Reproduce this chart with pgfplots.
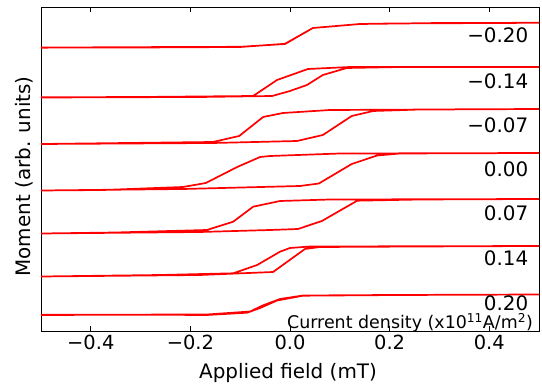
\documentclass[border=0pt]{standalone}
\usepackage{fontspec}
\setmainfont{DejaVu Sans}
\usepackage{pgfplots}
\pgfplotsset{compat=1.18}
\begin{document}
\begin{tikzpicture}[loop/.style={red, mark=none, solid, line width=1.7bp, line join=round}]
\begin{axis}[
  at={(0,0)}, anchor=south west,
  scale only axis, width=498bp, height=324bp,
  xmin=-0.5, xmax=0.5, ymin=0, ymax=324,
  xtick={-0.4,-0.2,0,0.2,0.4},
  xticklabels={−0.4,−0.2,0.0,0.2,0.4},
  ytick=\empty,
  tick align=inside,
  xtick pos=both,
  major tick length=5bp,
  tick style={black, line width=0.8bp},
  axis line style={black, line width=0.9bp},
  xticklabel style={font=\fontsize{19.5}{20}\selectfont, yshift=-1bp},
  xlabel={Applied field (mT)},
  xlabel style={font=\fontsize{20}{24}\selectfont, at={(axis description cs:0.496,-0.148)}, anchor=base},
  ylabel={Moment (arb. units)},
  ylabel style={font=\fontsize{20}{24}\selectfont, at={(axis description cs:-0.034,0.477)}, anchor=center, rotate=0},
  clip=true,
]
% -0.20
\addplot[loop] coordinates {(-0.5,283.3) (-0.35,283.8) (-0.2,284) (-0.10,284.2) (-0.01,287) (0.046,303) (0.141,307) (0.3,308) (0.5,308.2)
 (0.2,307.5) (0.14,307) (0.046,303) (-0.01,287.2) (-0.10,284) (-0.3,283.5) (-0.5,283.5)};
% -0.14
\addplot[loop] coordinates {(-0.5,233.5) (-0.181,234) (-0.036,235) (0,240) (0.034,246) (0.066,256) (0.114,263) (0.221,264) (0.5,264)
 (0.120,264) (0.036,262) (-0.026,251) (-0.074,235) (-0.3,234) (-0.5,233.7)};
% -0.07
\addplot[loop] coordinates {(-0.5,187) (-0.155,188) (0.014,190) (0.066,196) (0.124,215) (0.167,220) (0.261,221.5) (0.5,222)
 (0.080,221) (-0.014,218) (-0.054,214) (-0.102,195) (-0.155,189) (-0.5,187)};
% 0.00
\addplot[loop] coordinates {(-0.5,140.5) (-0.215,142) (0.020,145) (0.058,147.5) (0.124,167) (0.175,175.5) (0.221,177.5) (0.5,178)
 (0.100,177.5) (-0.040,175) (-0.060,174) (-0.106,164) (-0.169,148) (-0.215,144) (-0.375,141) (-0.5,140.5)};
% 0.07
\addplot[loop] coordinates {(-0.5,97.5) (-0.181,99) (-0.040,101) (0.016,102) (0.064,110) (0.135,130.3) (0.261,131.5) (0.5,132)
 (0.080,131.5) (-0.020,130) (-0.074,124.3) (-0.114,109.3) (-0.167,101) (-0.35,98.5) (-0.5,97.5)};
% 0.14
\addplot[loop] coordinates {(-0.5,54.5) (-0.181,56) (-0.034,59) (0.030,82) (0.060,84) (0.261,84.5) (0.5,85)
 (0.040,84.5) (0,83) (-0.020,79.3) (-0.066,66) (-0.114,57.7) (-0.261,56) (-0.5,54.5)};
% 0.20
\addplot[loop] coordinates {(-0.5,16) (-0.3,16.3) (-0.167,16) (-0.086,18.3) (-0.060,23) (-0.026,30.5) (0.026,35.3) (0.221,36) (0.5,36.5)
 (0.2,36) (0.026,35.5) (-0.02,32) (-0.055,25.5) (-0.080,19.5) (-0.167,16.5) (-0.5,16.2)};
\begin{scope}[every node/.style={font=\fontsize{20}{24}\selectfont, anchor=east, inner sep=0pt}]
\node at (axis cs:0.479,295.4) {−0.20};
\node at (axis cs:0.479,250.2) {−0.14};
\node at (axis cs:0.479,206) {−0.07};
\node at (axis cs:0.479,161.5) {0.00};
\node at (axis cs:0.479,117.5) {0.07};
\node at (axis cs:0.479,72.7) {0.14};
\node at (axis cs:0.479,28) {0.20};
\end{scope}
\node[font=\fontsize{17.5}{20}\selectfont, anchor=base east, inner sep=0pt] at (axis cs:0.488,2.7) {Current density (x10\textsuperscript{11}A/m\textsuperscript{2})};
\end{axis}
\pgfresetboundingbox
\path[use as bounding box] (-41bp,-55bp) rectangle (501bp,331bp);
\end{tikzpicture}
\end{document}
